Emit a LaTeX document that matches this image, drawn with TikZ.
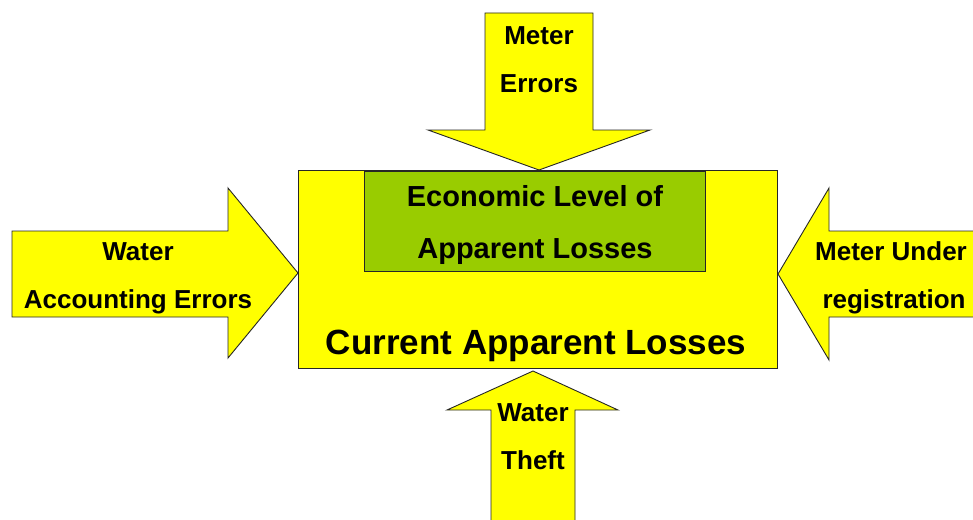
\documentclass[tikz,border=0pt]{standalone}
\usepackage{fontspec}
\setmainfont{Liberation Sans}
\definecolor{ayellow}{HTML}{FFFF00}
\definecolor{agreen}{HTML}{99CC00}
\definecolor{aline}{HTML}{262626}
\begin{document}
\begin{tikzpicture}[x=1pt,y=-1pt,
  blockshape/.style={fill=ayellow,draw=aline,line width=0.9pt,line join=miter},
  greenbox/.style={fill=agreen,draw=aline,line width=0.9pt},
  lbl/.style={anchor=base,inner sep=0pt,font=\bfseries\fontsize{26}{30}\selectfont},
  glbl/.style={anchor=base,inner sep=0pt,font=\bfseries\fontsize{29}{33}\selectfont},
  blbl/.style={anchor=base,inner sep=0pt,font=\bfseries\fontsize{35}{40}\selectfont}]
\useasboundingbox (0,0) rectangle (973,519);
\clip (0,0) rectangle (973,519);
% arrows
\draw[blockshape] (485,13) -- (593,13) -- (593,130) -- (650,130) -- (539,170) -- (428,130) -- (485,130) -- cycle;
\draw[blockshape] (12,231) -- (228,231) -- (228,188) -- (298,273) -- (228,358) -- (228,317) -- (12,317) -- cycle;
\draw[blockshape] (995,231) -- (829,231) -- (829,188) -- (778,274) -- (829,360) -- (829,317) -- (995,317) -- cycle;
\draw[blockshape] (491,540) -- (491,410) -- (447,410) -- (533,371) -- (618,410) -- (575,410) -- (575,540) -- cycle;
% main box
\draw[blockshape] (298,170) rectangle (777,368);
\draw[greenbox] (364,171) rectangle (705,271);
% texts
\node[lbl] (t1) at (539,45) {Meter};
\node[lbl] (t2) at (539,92) {Errors};
\node[lbl] (l1) at (138,260) {Water};
\node[lbl] (l2) at (138,308) {Accounting Errors};
\node[lbl] (r1) at (891,260) {Meter Under};
\node[lbl] (r2) at (894,308) {registration};
\node[lbl] (b1) at (533,421) {Water};
\node[lbl] (b2) at (533,469) {Theft};
\node[glbl] (g1) at (535,206) {Economic Level of};
\node[glbl] (g2) at (535,258) {Apparent Losses};
\node[blbl] (c1) at (536,354) {Current Apparent Losses};
\end{tikzpicture}
\end{document}
